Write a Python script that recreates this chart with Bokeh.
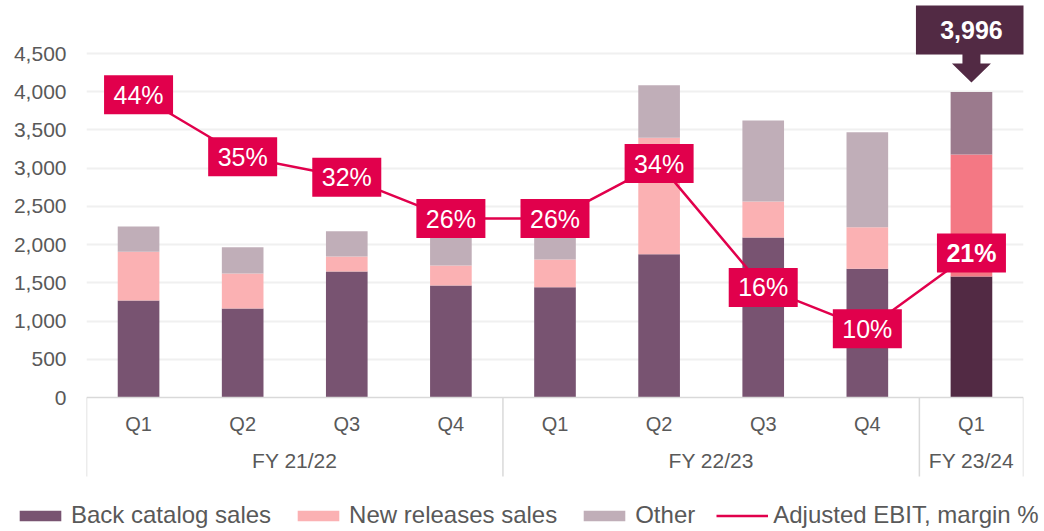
from bokeh.plotting import figure
from bokeh.layouts import column
from bokeh.models import (ColumnDataSource, FactorRange, Range1d, FixedTicker,
                          NumeralTickFormatter, Legend, LegendItem)
from bokeh.transform import stack
from bokeh.core.properties import value
from bokeh.embed import file_html
from bokeh.resources import INLINE

# ---------------- data ----------------
fiscal_years = ["FY 21/22"] * 4 + ["FY 22/23"] * 4 + ["FY 23/24"]
quarters = ["Q1", "Q2", "Q3", "Q4", "Q1", "Q2", "Q3", "Q4", "Q1"]
back_catalog = [1270, 1165, 1648, 1465, 1443, 1875, 2093, 1684, 1583]
new_releases = [638, 457, 197, 262, 362, 1522, 471, 544, 1596]
other = [329, 344, 331, 423, 345, 689, 1060, 1243, 817]
margin = [44, 35, 32, 26, 26, 34, 16, 10, 21]
highlight = [False] * 8 + [True]
legend_labels = ["Back catalog sales", "New releases sales", "Other",
                 "Adjusted EBIT, margin %"]

# ---------------- styles ----------------
FONT = "Liberation Sans"
GREY = "#595959"
C_BACK, C_NEW, C_OTHER = "#785371", "#FBB1B3", "#C0AEB8"
H_BACK, H_NEW, H_OTHER = "#522A44", "#F47884", "#9B7A8D"
RED = "#E1004C"
AXIS_LINE = "#D9D9D9"

W = 1040
H = 500
LEG_H = 30
FRAME_L, FRAME_R = 86, 17
ZERO_PX = 397                 # zero line, px from frame top
PPU = 344 / 4500              # screen pixels per data unit
Y1 = ZERO_PX / PPU
Y0 = -(H - ZERO_PX) / PPU
RATIO = 90                    # primary units per percentage point

x = list(zip(fiscal_years, quarters))
n = len(x)
src = ColumnDataSource(dict(
    x=x, q=quarters, back=back_catalog, new=new_releases, other=other,
    m=margin,
    mlabel=[f"{v}%" for v in margin],
    fs=["bold" if h else "normal" for h in highlight],
    cb=[H_BACK if h else C_BACK for h in highlight],
    cn=[H_NEW if h else C_NEW for h in highlight],
    co=[H_OTHER if h else C_OTHER for h in highlight],
))

p = figure(width=W, height=H, output_backend="svg", toolbar_location=None,
           x_range=FactorRange(*x, group_padding=0, factor_padding=0, range_padding=0),
           y_range=Range1d(Y0, Y1), x_axis_location=None,
           min_border_left=FRAME_L, min_border_right=FRAME_R,
           min_border_top=0, min_border_bottom=0)
p.frame_align = False
p.extra_y_ranges = {"pct": Range1d(Y0 / RATIO, Y1 / RATIO)}
p.outline_line_color = None
p.background_fill_color = "white"
p.xgrid.visible = False

ticks = list(range(0, 4501, 500))
p.yaxis.ticker = FixedTicker(ticks=ticks)
p.yaxis.formatter = NumeralTickFormatter(format="0,0")
p.yaxis.axis_line_color = None
p.yaxis.major_tick_line_color = None
p.yaxis.minor_tick_line_color = None
p.yaxis.major_label_text_font = FONT
p.yaxis.major_label_text_font_size = "21px"
p.yaxis.major_label_text_color = GREY
p.yaxis.major_label_standoff = 14
p.ygrid.ticker = FixedTicker(ticks=ticks[1:])
p.ygrid.grid_line_color = "#F0F0F0"
p.ygrid.grid_line_width = 2

# stacked bars
w = 0.4
p.vbar(x="x", bottom=0, top=stack("back"), width=w, fill_color="cb",
       line_color=None, source=src)
p.vbar(x="x", bottom=stack("back"), top=stack("back", "new"), width=w,
       fill_color="cn", line_color=None, source=src)
p.vbar(x="x", bottom=stack("back", "new"), top=stack("back", "new", "other"),
       width=w, fill_color="co", line_color=None, source=src)

# category axis (drawn in-frame)
groups = []
for i, fy in enumerate(fiscal_years):
    if not groups or groups[-1][0] != fy:
        groups.append([fy, i, i + 1])
    else:
        groups[-1][2] = i + 1
q_y = -26 / PPU
fy_y = -63 / PPU
sep_bottom = -79 / PPU
p.segment(x0=[0], y0=[0], x1=[n], y1=[0], line_color=AXIS_LINE, line_width=1.5)
bounds = [0] + [g[2] for g in groups]
p.segment(x0=bounds, y0=[0] * len(bounds), x1=bounds, y1=[sep_bottom] * len(bounds),
          line_color=AXIS_LINE, line_width=1.5)
p.text(x="x", y=q_y, text="q", source=src, text_font=value(FONT),
       text_font_size="20px", text_color=GREY, text_align="center",
       text_baseline="middle")
p.text(x=[(g[1] + g[2]) / 2 for g in groups], y=[fy_y] * len(groups),
       text=[g[0] for g in groups], text_font=value(FONT), text_font_size="21px",
       text_color=GREY, text_align="center", text_baseline="middle")

# margin line with labels
p.line(x="x", y="m", source=src, y_range_name="pct", line_color=RED, line_width=2.5)
p.rect(x="x", y="m", width=69, height=39, width_units="screen",
       height_units="screen", fill_color=RED, line_color=None, source=src,
       y_range_name="pct")
p.text(x="x", y="m", text="mlabel", source=src, y_range_name="pct",
       text_font=value(FONT), text_font_size="25px", text_font_style="fs",
       text_color="white", text_align="center", text_baseline="middle")

# callout for latest total
last = n - 1
total_last = back_catalog[last] + new_releases[last] + other[last]
xc = last + 0.5
CAT_PX = (W - FRAME_L - FRAME_R) / n
box_y = total_last + 62 / PPU
p.rect(x=[xc], y=[box_y], width=111, height=49, width_units="screen",
       height_units="screen", fill_color=H_BACK, line_color=None)
p.text(x=[xc], y=[box_y], text=[f"{total_last:,}"], text_font=value(FONT),
       text_font_size="25px", text_font_style="bold", text_color="white",
       text_align="center", text_baseline="middle")
sw = 9 / CAT_PX
hw = 19.5 / CAT_PX
ys_top = total_last + 38 / PPU
yh_top = total_last + 28.5 / PPU
y_tip = total_last + 9.5 / PPU
p.patch(x=[xc - sw, xc + sw, xc + sw, xc + hw, xc, xc - hw, xc - sw],
        y=[ys_top, ys_top, yh_top, yh_top, y_tip, yh_top, yh_top],
        fill_color=H_BACK, line_color=None)

# legend strip (separate figure so it can span the full width)
lf = figure(width=W, height=LEG_H, output_backend="svg", toolbar_location=None,
            x_range=Range1d(0, 1), y_range=Range1d(0, 1), x_axis_location=None,
            y_axis_location=None, min_border_left=0, min_border_right=0,
            min_border_top=0, min_border_bottom=0)
lf.frame_align = False
lf.outline_line_color = None
lf.grid.visible = False
# swatch renderers kept outside the visible range; only their legend entries show
g1 = lf.vbar(x=[-5], top=[-5], bottom=[-6], width=0.1, fill_color=C_BACK, line_color=None)
g2 = lf.vbar(x=[-5], top=[-5], bottom=[-6], width=0.1, fill_color=C_NEW, line_color=None)
g3 = lf.vbar(x=[-5], top=[-5], bottom=[-6], width=0.1, fill_color=C_OTHER, line_color=None)
g4 = lf.line(x=[-5, -4], y=[-5, -5], line_color=RED, line_width=2.5)
legend = Legend(items=[LegendItem(label=l, renderers=[r])
                       for l, r in zip(legend_labels, [g1, g2, g3, g4])],
                orientation="horizontal", location=(14, 1), glyph_width=52,
                glyph_height=13, label_standoff=5, spacing=21, padding=0, margin=0,
                border_line_color=None, background_fill_alpha=0,
                label_text_font=FONT, label_text_font_size="24px",
                label_text_color=GREY)
lf.add_layout(legend, "center")

layout = column(p, lf, spacing=0)
open("out.html", "w").write(file_html(layout, INLINE))
